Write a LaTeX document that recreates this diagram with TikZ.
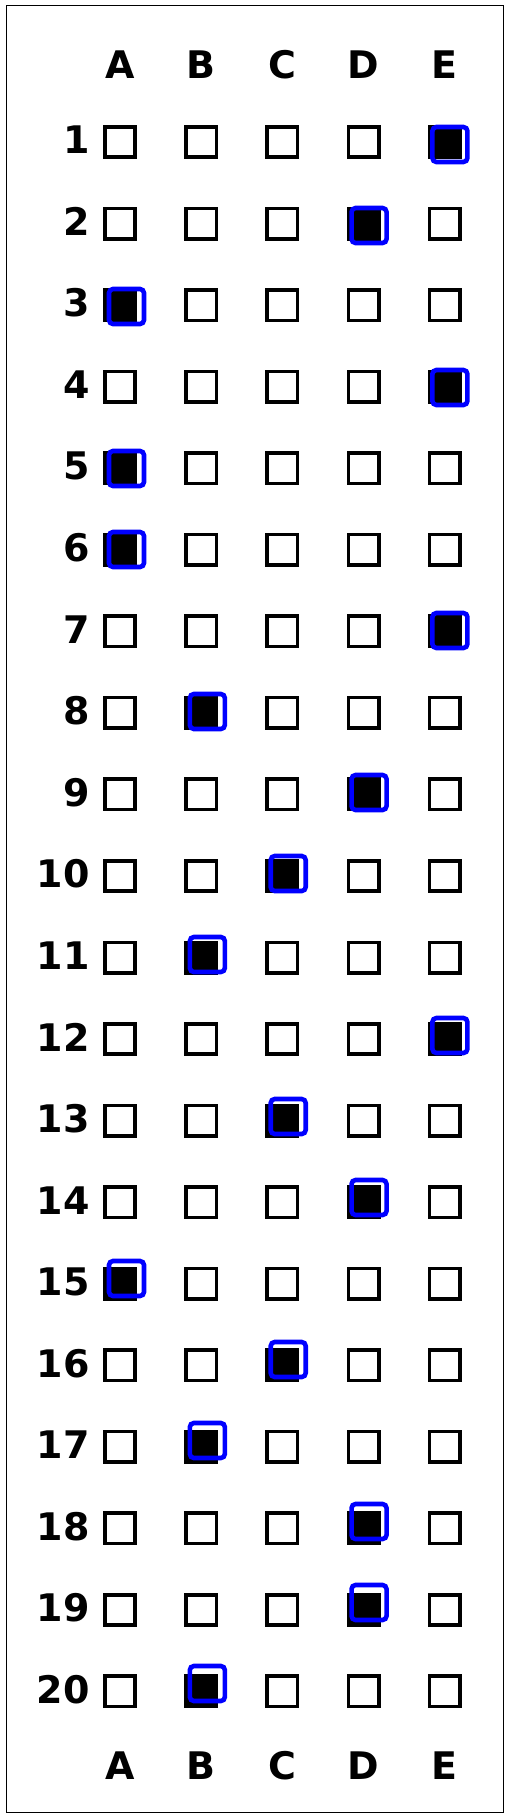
\documentclass[tikz,border=0pt]{standalone}
\usepackage{fontspec}
\setsansfont{DejaVu Sans}
\begin{document}
\begin{tikzpicture}[x=1pt,y=-1pt,
  lab/.style={font=\sffamily\bfseries\fontsize{38}{40}\selectfont, inner sep=0pt, outer sep=0pt},
  cell/.style={draw=black, line width=3.6pt, minimum size=30.4pt, inner sep=0pt, outer sep=0pt},
  filledcell/.style={cell, fill=black},
  hit/.style={draw=blue, line width=4.6pt, rounded corners=4pt, minimum size=35pt, inner sep=0pt, outer sep=0pt},
  frame/.style={draw=black, line width=1pt}]
\useasboundingbox (0,0) rectangle (509,1818);
\draw[frame] (6,5) rectangle (503,1812);
\foreach \l [count=\i from 0] in {A,B,C,D,E} {
  \node[lab] (top-\l) at (120+81.2*\i, 65) {\l};
  \node[lab] (bot-\l) at (120+81.2*\i, 1765.5) {\l};
}
\foreach \r/\a in {1/4,2/3,3/0,4/4,5/0,6/0,7/4,8/1,9/3,10/2,11/1,12/4,13/2,14/3,15/0,16/2,17/1,18/3,19/3,20/1} {
  \pgfmathsetmacro\yy{142+81.55*(\r-1)}
  \node[lab, anchor=east] (n-\r) at (89.5,\yy-2) {\r};
  \foreach \c in {0,...,4} {
    \node[cell] (c-\r-\c) at (120+81.2*\c,\yy) {};
  }
  \node[filledcell] (f-\r) at (120+81.2*\a,\yy) {};
  \pgfmathsetmacro\dx{6.5-0.35*\a}
  \pgfmathsetmacro\dy{2.5-0.55*(\r-1)}
  \node[hit] (h-\r) at (120+81.2*\a+\dx,\yy+\dy) {};
}
\end{tikzpicture}
\end{document}
